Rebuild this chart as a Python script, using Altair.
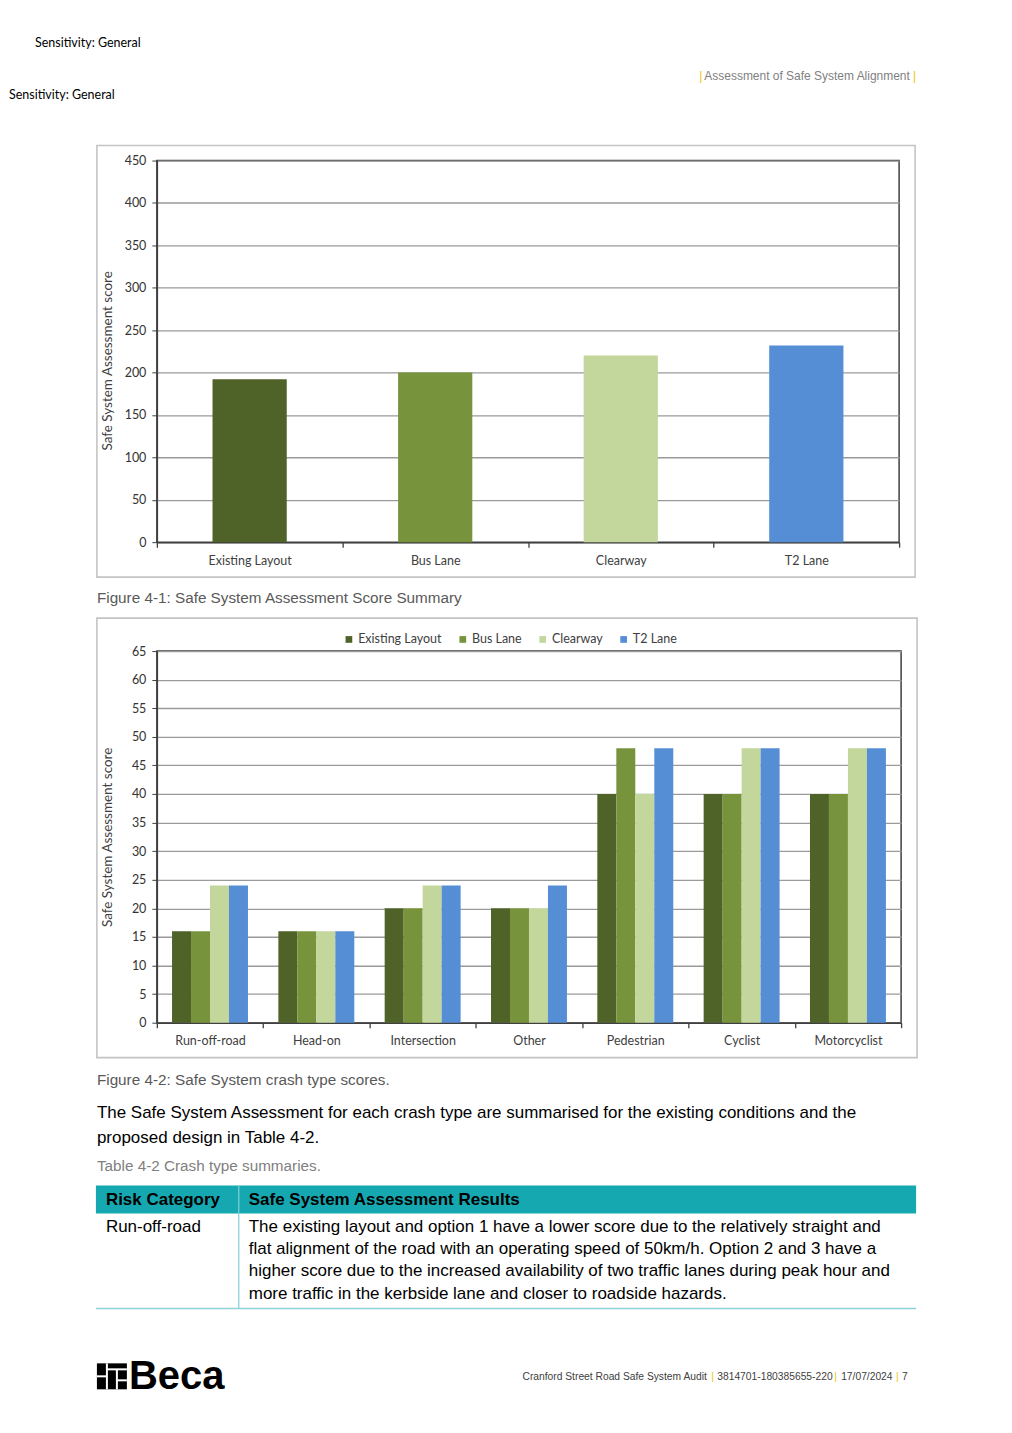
import altair as alt
import pandas as pd

# ---------------- data ----------------
options = ["Existing Layout", "Bus Lane", "Clearway", "T2 Lane"]
total_scores = [192, 200, 220, 232]

crash_types = ["Run-off-road", "Head-on", "Intersection", "Other",
               "Pedestrian", "Cyclist", "Motorcyclist"]
existing_layout = [16, 16, 20, 20, 40, 40, 40]
bus_lane = [16, 16, 20, 20, 48, 40, 40]
clearway = [24, 16, 24, 20, 40, 48, 48]
t2_lane = [24, 16, 24, 24, 48, 48, 48]

colors = ["#4f6228", "#77933c", "#c3d69b", "#558ed5"]

y1_ticks = list(range(0, 451, 50))
y2_ticks = list(range(0, 66, 5))

df1 = pd.DataFrame({"option": options, "score": total_scores})
rows = []
for s, vals in zip(options, [existing_layout, bus_lane, clearway, t2_lane]):
    for c, v in zip(crash_types, vals):
        rows.append({"crash": c, "series": s, "score": v})
df2 = pd.DataFrame(rows)
ONE = pd.DataFrame({"k": [0]})

CH_FONT = "Lato"
PG_FONT = "Liberation Sans"
AX_COL = "#404040"


def txt(s, x, y, size=14, color="black", font=PG_FONT, weight="normal",
        align="left", baseline="middle"):
    return alt.Chart(ONE).mark_text(
        text=s, align=align, baseline=baseline, font=font, fontSize=size,
        color=color, fontWeight=weight
    ).encode(x=alt.value(x), y=alt.value(y))


def box(x, x2, y, y2, **kw):
    return alt.Chart(ONE).mark_rect(**kw).encode(
        x=alt.value(x), x2=alt.value(x2), y=alt.value(y), y2=alt.value(y2))


def rule(x, x2, y, y2, color, width):
    return alt.Chart(ONE).mark_rule(color=color, strokeWidth=width).encode(
        x=alt.value(x), x2=alt.value(x2), y=alt.value(y), y2=alt.value(y2))


def y_axis(values, title_y):
    return alt.Axis(
        values=values, grid=True, gridColor="#9a9a9a", gridWidth=1.3,
        domainColor=AX_COL, domainWidth=1.5, tickColor=AX_COL, tickSize=5,
        labelFont=CH_FONT, labelFontSize=12.5, labelColor="#333333", labelPadding=6,
        title="Safe System Assessment score", titleFont=CH_FONT,
        titleFontSize=13.5, titleFontWeight="normal", titleColor=AX_COL,
        titleX=-49, titleY=title_y, titleBaseline="middle", titleAngle=-90,
        titleAlign="center")


def x_axis():
    return alt.Axis(
        title=None, labelAngle=0, tickBand="extent", domainColor=AX_COL,
        domainWidth=1.5, tickColor=AX_COL, tickSize=5, tickWidth=1.3,
        labelFont=CH_FONT, labelFontSize=12.5, labelColor=AX_COL,
        labelPadding=7, grid=False)


W1, H1 = 743, 382
W2, H2 = 745, 372

# ---------------- chart 1 ----------------
bars1 = alt.Chart(df1).mark_bar(width=alt.RelativeBandSize(0.4)).encode(
    x=alt.X("option:N", sort=options,
            scale=alt.Scale(paddingInner=0, paddingOuter=0), axis=x_axis()),
    y=alt.Y("score:Q", scale=alt.Scale(domain=[0, 450], nice=False),
            axis=y_axis(y1_ticks, 200)),
    color=alt.Color("option:N", scale=alt.Scale(domain=options, range=colors),
                    legend=None),
)

layer1 = alt.layer(
    # page anchor (transparent)
    box(-148, 847, -151, 1255, fill="white", fillOpacity=0),
    box(-60, 759, -15, 417, fillOpacity=0, stroke="#c4c4c4", strokeWidth=1.6),
    bars1,
    txt("Sensitivity: General", -122, -118, size=12.5, font=CH_FONT),
    txt("Sensitivity: General", -148, -66, size=12.5, font=CH_FONT),
    txt("|", 543, -85, size=12, color="#f2c200"),
    txt("Assessment of Safe System Alignment", 548, -85, size=12, color="#7f7f7f"),
    txt("|", 757, -85, size=12, color="#f2c200"),
    txt("Figure 4-1: Safe System Assessment Score Summary", -60, 438,
        size=15.3, color="#595959"),
).properties(width=W1, height=H1)

# ---------------- chart 2 ----------------
bars2 = alt.Chart(df2).mark_bar().encode(
    x=alt.X("crash:N", sort=crash_types,
            scale=alt.Scale(paddingInner=0, paddingOuter=0), axis=x_axis()),
    xOffset=alt.XOffset("series:N", sort=options,
                        scale=alt.Scale(paddingInner=0, paddingOuter=0.8)),
    y=alt.Y("score:Q", scale=alt.Scale(domain=[0, 65], nice=False),
            axis=y_axis(y2_ticks, 186)),
    color=alt.Color("series:N", sort=options,
                    scale=alt.Scale(domain=options, range=colors),
                    legend=alt.Legend(
                        orient="none", legendX=186, legendY=-18,
                        direction="horizontal", columns=4, title=None,
                        symbolType="square", symbolSize=45, symbolStrokeWidth=0,
                        labelFont=CH_FONT, labelFontSize=12.5, labelColor=AX_COL,
                        labelOffset=3, columnPadding=14)),
)

line1 = ("The Safe System Assessment for each crash type are summarised for the "
         "existing conditions and the")
line2 = "proposed design in Table 4-2."
body = [
    "The existing layout and option 1 have a lower score due to the relatively straight and",
    "flat alignment of the road with an operating speed of 50km/h. Option 2 and 3 have a",
    "higher score due to the increased availability of two traffic lanes during peak hour and",
    "more traffic in the kerbside lane and closer to roadside hazards.",
]
body_y = [577, 599, 621, 644]

teal = "#16a8b0"
layer2_parts = [
    box(-60, 761, -33, 407, fillOpacity=0, stroke="#c4c4c4", strokeWidth=1.6),
    bars2,
    txt("Figure 4-2: Safe System crash type scores.", -60, 429, size=15.3,
        color="#595959"),
    txt(line1, -60, 462, size=17),
    txt(line2, -60, 487, size=17),
    txt("Table 4-2 Crash type summaries.", -60, 515, size=15.3, color="#808080"),
    box(-61, 760, 535, 563, fill=teal),
    rule(82, 82, 535, 563, "#7fd0d4", 1.2),
    rule(82, 82, 563, 658, "#7fd0d4", 1.2),
    rule(-61, 760, 658, 658, "#8fd3d7", 1.5),
    txt("Risk Category", -51, 549, size=17, weight="bold"),
    txt("Safe System Assessment Results", 92, 549, size=17, weight="bold"),
    txt("Run-off-road", -51, 577, size=17),
]
for s, yy in zip(body, body_y):
    layer2_parts.append(txt(s, 92, yy, size=17))

# footer: logo + text
layer2_parts += [
    box(-60, -30, 713, 739, fill="black"),
    rule(-50, -50, 713, 739, "white", 2),
    rule(-60, -50, 726, 726, "white", 2),
    rule(-40, -40, 719, 739, "white", 2),
    rule(-50, -30, 719, 719, "white", 2),
    rule(-40, -30, 730, 730, "white", 2),
    txt("Beca", -28, 739, size=40, weight="bold", baseline="alphabetic"),
    txt("Cranford Street Road Safe System Audit", 366, 727, size=10.3, color="#404040"),
    txt("|", 555, 727, size=10.5, color="#f2c200"),
    txt("3814701-180385655-220", 561, 727, size=10.3, color="#404040"),
    txt("|", 678, 727, size=10.5, color="#f2c200"),
    txt("17/07/2024", 685, 727, size=10.3, color="#404040"),
    txt("|", 740, 727, size=10.5, color="#f2c200"),
    txt("7", 746, 727, size=10.3, color="#404040"),
]

layer2 = alt.layer(*layer2_parts).properties(width=W2, height=H2)

chart = alt.vconcat(layer1, layer2, spacing=109, bounds="flush").resolve_scale(
    color="independent", x="independent", y="independent"
).properties(
    padding=0, background="white"
).configure_view(
    stroke=AX_COL, strokeWidth=1.5
)

chart.save("out.html", embed_options={"renderer": "svg", "actions": False})
